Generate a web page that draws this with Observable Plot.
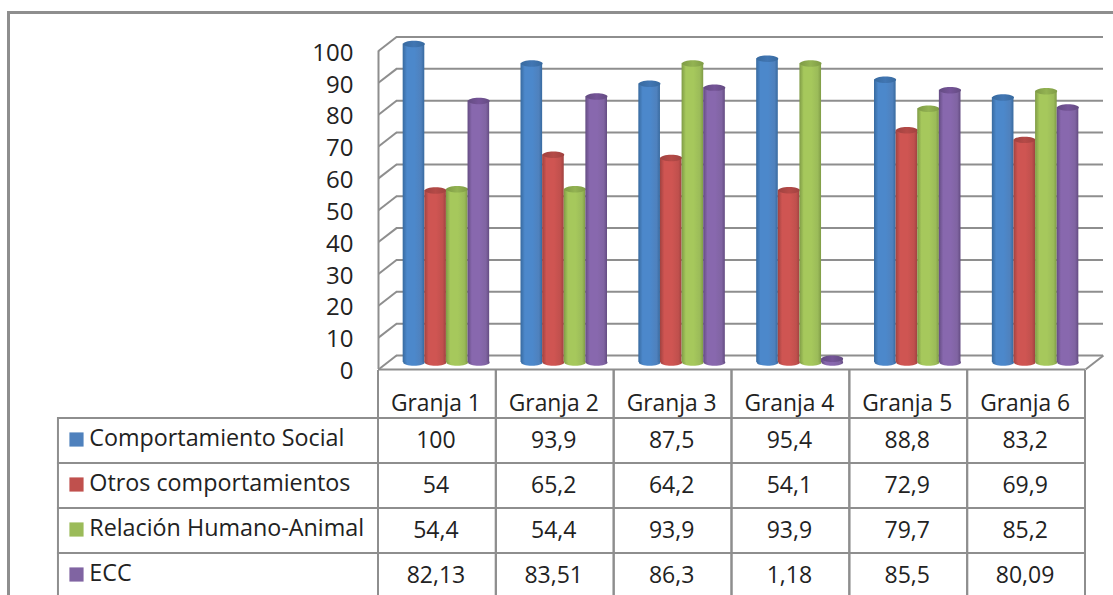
<!DOCTYPE html>
<html lang="es">
<head>
<meta charset="utf-8">
<title>Comportamiento por granja</title>
<script src="https://cdn.jsdelivr.net/npm/d3@7"></script>
<script src="https://cdn.jsdelivr.net/npm/@observablehq/plot@0.6"></script>
<style>
  html, body { margin: 0; padding: 0; background: #fff; }
  #page { position: relative; width: 1113px; height: 595px; overflow: hidden; }
  #frame { position: absolute; left: 7px; top: 11px; right: -10px; bottom: -10px;
           border-left: 3px solid #8e8e8e; border-top: 3px solid #8e8e8e; }
  #chart, #table { position: absolute; left: 0; }
  #chart { top: 0; }
  #table { top: 370px; }
  svg { display: block; }
</style>
</head>
<body>
<div id="page">
  <div id="frame"></div>
  <div id="chart"></div>
  <div id="table"></div>
</div>
<script>
// Values per farm, one list for each behaviour score
const granjas = ["Granja 1", "Granja 2", "Granja 3", "Granja 4", "Granja 5", "Granja 6"];
const seriesNames = ["Comportamiento Social", "Otros comportamientos", "Relación Humano-Animal", "ECC"];
const comportamientoSocial = [100, 93.9, 87.5, 95.4, 88.8, 83.2];
const otrosComportamientos = [54, 65.2, 64.2, 54.1, 72.9, 69.9];
const relacionHumanoAnimal = [54.4, 54.4, 93.9, 93.9, 79.7, 85.2];
const ecc = [82.13, 83.51, 86.3, 1.18, 85.5, 80.09];
const yTicks = [0, 10, 20, 30, 40, 50, 60, 70, 80, 90, 100];

// Tones per series: flat swatch, cylinder edge, cylinder centre, cap centre
const tones = [
  {flat: "#4f81bd", edge: "#386a9f", mid: "#4c88cb", cap: "#4176b3"},
  {flat: "#c0504d", edge: "#a04240", mid: "#cf5552", cap: "#b54a47"},
  {flat: "#9bbb59", edge: "#7f9b46", mid: "#a6c85c", cap: "#93b352"},
  {flat: "#8064a2", edge: "#644c82", mid: "#8868ae", cap: "#755498"}
];

const seriesValues = [comportamientoSocial, otrosComportamientos, relacionHumanoAnimal, ecc];
const bars = seriesValues.map((values, s) =>
  values.map((value, g) => ({serie: s, granja: g, value}))
);

const gridColor = "#8e8e8e";
const textColor = "#222";
const fontFamily = "'Open Sans'";

// Bar width and the wall depth, in x and y scale units
const barStep = 0.1835;
const depthX = 0.0764;
const depthY = 2.19;
const barX1 = d => d.granja + 0.5 + (d.serie - 2) * barStep;
const barCenter = d => barX1(d) + barStep / 2;

// A flattened circle used for the cylinder ends
const ellipseSymbol = {
  draw(context, size) {
    const rx = Math.sqrt(size / Math.PI);
    const ry = rx * 0.3;
    const k = 0.5523;
    context.moveTo(-rx, 0);
    context.bezierCurveTo(-rx, -ry * k, -rx * k, -ry, 0, -ry);
    context.bezierCurveTo(rx * k, -ry, rx, -ry * k, rx, 0);
    context.bezierCurveTo(rx, ry * k, rx * k, ry, 0, ry);
    context.bezierCurveTo(-rx * k, ry, -rx, ry * k, -rx, 0);
    context.closePath();
  }
};

// Horizontal gradients giving the bars their rounded look
function gradients() {
  const defs = d3.create("svg:defs");
  tones.forEach((tone, s) => {
    const side = defs.append("linearGradient").attr("id", `side-${s}`);
    [[0, tone.edge], [0.2, tone.mid], [0.55, tone.mid], [0.85, tone.flat], [1, tone.edge]]
      .forEach(([offset, color]) => side.append("stop").attr("offset", offset).attr("stop-color", color));
    const cap = defs.append("linearGradient").attr("id", `cap-${s}`);
    [[0, tone.edge], [0.5, tone.cap], [1, tone.edge]]
      .forEach(([offset, color]) => cap.append("stop").attr("offset", offset).attr("stop-color", color));
  });
  return defs.node();
}

const chart = Plot.plot({
  width: 1113,
  height: 390,
  marginLeft: 356,
  marginRight: 0,
  marginTop: 0,
  marginBottom: 0,
  style: {background: "transparent", fontFamily},
  x: {type: "linear", domain: [0, 6], range: [387, 1094], axis: null},
  y: {type: "linear", domain: [0, 100], range: [362, 43.5], axis: null},
  marks: [
    gradients,
    // Back wall gridlines and their run along the side wall
    Plot.ruleY(yTicks, {y: d => d + depthY, x1: depthX, x2: 6 + depthX, stroke: gridColor, strokeWidth: 2, strokeOpacity: 1}),
    Plot.link(yTicks, {
      x1: -depthX, x2: depthX,
      y1: d => d - depthY, y2: d => d + depthY,
      stroke: gridColor, strokeWidth: 2
    }),
    // Front edge of the side wall and the floor
    Plot.ruleX([-depthX], {y1: -depthY, y2: 100 - depthY, stroke: gridColor, strokeWidth: 2}),
    Plot.ruleY([-depthY], {x1: -depthX, x2: 6 - depthX, stroke: gridColor, strokeWidth: 2}),
    Plot.link([6], {
      x1: d => d - depthX, x2: d => d + depthX,
      y1: -depthY, y2: depthY,
      stroke: gridColor, strokeWidth: 2
    }),
    Plot.axisY(yTicks, {
      y: d => d - depthY,
      anchor: "left",
      tickSize: 0,
      tickPadding: 3,
      fontSize: 24,
      fill: textColor,
      dy: 2,
      label: null
    }),
    // Cylinders: foot, body, top, drawn series by series
    ...bars.flatMap((rows, s) => [
      Plot.dot(rows, {x: barCenter, y: 0, r: 10.8, symbol: ellipseSymbol, fill: `url(#side-${s})`, stroke: "none"}),
      Plot.rectY(rows, {
        x1: barX1,
        x2: d => barX1(d) + barStep,
        y1: 0,
        y2: "value",
        fill: `url(#side-${s})`,
        inset: 0
      }),
      Plot.dot(rows, {x: barCenter, y: "value", r: 10.8, symbol: ellipseSymbol, fill: `url(#cap-${s})`, stroke: "none"})
    ])
  ]
});
document.getElementById("chart").append(chart);

// Data table under the chart, with the legend swatches in its first column
const headerRow = "encabezado";
const labelColumn = -2.716;
const tableCells = seriesNames.flatMap((name, s) =>
  granjas.map((granja, g) => ({row: name, g, text: String(seriesValues[s][g]).replace(".", ",")}))
);
const headerCells = granjas.map((granja, g) => ({row: headerRow, g, text: granja}));
const labelCells = seriesNames.map((name, s) => ({row: name, s, text: name}));

const table = Plot.plot({
  width: 1113,
  height: 225,
  marginLeft: 0,
  marginRight: 0,
  marginTop: 0,
  marginBottom: 0,
  style: {background: "transparent", fontFamily},
  x: {type: "linear", domain: [0, 6], range: [378, 1085], axis: null},
  y: {type: "band", domain: [headerRow, ...seriesNames], range: [3, 228], padding: 0, axis: null},
  marks: [
    Plot.barX(labelCells, {x1: labelColumn, x2: 0, y: "row", fill: "none", stroke: gridColor, strokeWidth: 2, inset: 0}),
    Plot.barX(tableCells, {x1: "g", x2: d => d.g + 1, y: "row", fill: "none", stroke: gridColor, strokeWidth: 2, inset: 0}),
    Plot.barX(headerCells, {x1: "g", x2: d => d.g + 1, y: "row", fill: "none", stroke: gridColor, strokeWidth: 2, insetTop: -4}),
    Plot.text(headerCells, {x: d => d.g + 0.5, y: "row", text: "text", dx: -1.5, dy: 7.5, fontSize: 22.8, fill: textColor}),
    Plot.text(tableCells, {x: d => d.g + 0.5, y: "row", text: "text", dx: -1.5, fontSize: 23, fill: textColor}),
    Plot.dot(labelCells, {
      x: -2.563, y: "row", dy: -1.5, symbol: "square", r: 8,
      fill: d => tones[d.s].flat, stroke: "none"
    }),
    Plot.text(labelCells, {
      x: labelColumn + 0.27, y: "row", dx: -1, dy: -2, text: "text", textAnchor: "start",
      fontSize: 23.3, fill: textColor
    })
  ]
});
document.getElementById("table").append(table);
</script>
</body>
</html>
